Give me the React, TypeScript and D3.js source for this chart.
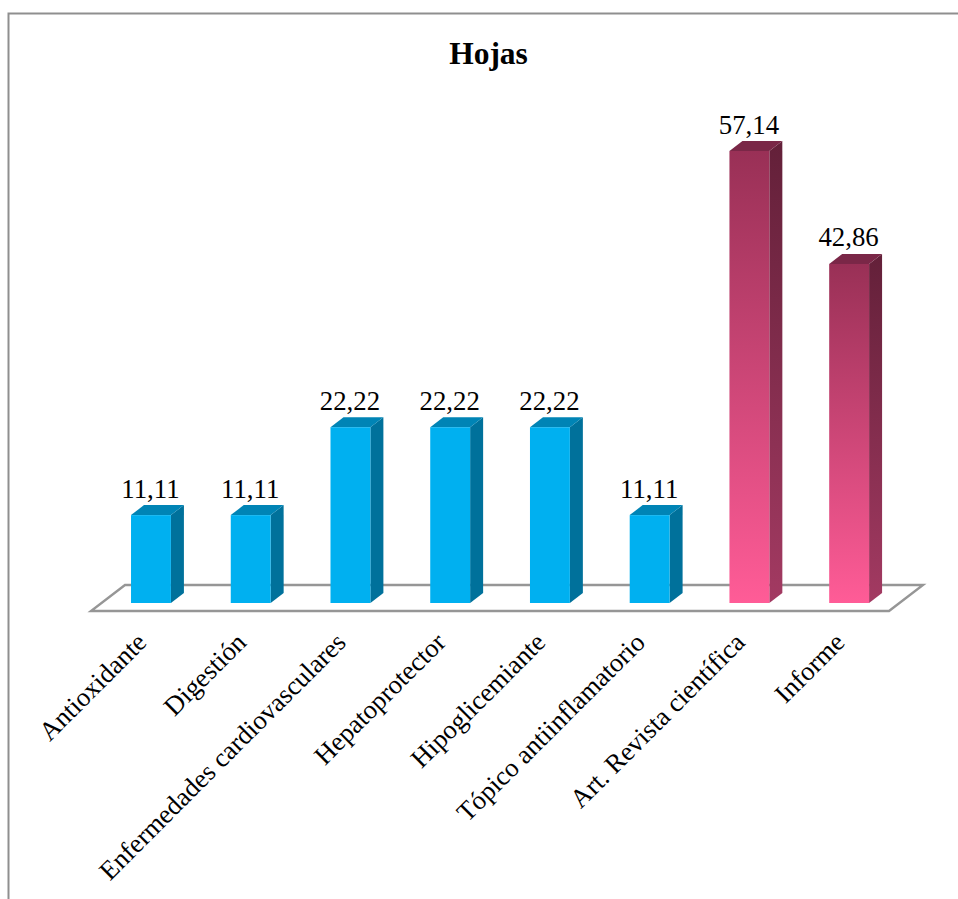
import React from "react";
import * as d3 from "d3";

const categories = [
  "Antioxidante",
  "Digestión",
  "Enfermedades cardiovasculares",
  "Hepatoprotector",
  "Hipoglicemiante",
  "Tópico antiinflamatorio",
  "Art. Revista científica",
  "Informe",
];
const values = [11.11, 11.11, 22.22, 22.22, 22.22, 11.11, 57.14, 42.86];
const valueLabels = ["11,11", "11,11", "22,22", "22,22", "22,22", "11,11", "57,14", "42,86"];
const seriesOf = [0, 0, 0, 0, 0, 0, 1, 1];

const blue = { front: "#00b0f0", side: "#00719b", top: "#0084b5" };
const rose = { frontTop: "#993056", frontBottom: "#ff5c97", sideTop: "#632039", sideBottom: "#a33a62", top: "#7a2747" };

const serif = "'Liberation Serif', serif";

export default function App() {
  const x = d3
    .scaleBand<number>()
    .domain(d3.range(categories.length))
    .range([101.1, 899])
    .paddingInner(0.6)
    .paddingOuter(0.3);
  const y = d3.scaleLinear().domain([0, 57.14]).range([603, 151]);
  const depthX = 13;
  const depthY = 10;
  const floor = [
    [91, 611],
    [889, 611],
    [923, 585],
    [125, 585],
  ];
  return (
    <svg
      width={958}
      height={899}
      style={{ position: "absolute", left: 0, top: 0, background: "#fff" }}
      fontFamily={serif}
    >
      <defs>
        <linearGradient id="roseFront" x1="0" y1="0" x2="0" y2="1">
          <stop offset="0" stopColor={rose.frontTop} />
          <stop offset="1" stopColor={rose.frontBottom} />
        </linearGradient>
        <linearGradient id="roseSide" x1="0" y1="0" x2="0" y2="1">
          <stop offset="0" stopColor={rose.sideTop} />
          <stop offset="1" stopColor={rose.sideBottom} />
        </linearGradient>
      </defs>

      <path d="M8.5,899V13.5H958" fill="none" stroke="#8f8f8f" strokeWidth={2} />

      <text x={488.5} y={64} textAnchor="middle" fontSize={31.5} fontWeight="bold" fill="#000">
        Hojas
      </text>

      <polygon points={floor.map((p) => p.join(",")).join(" ")} fill="#fff" stroke="#969696" strokeWidth={2.4} />

      {values.map((v, i) => {
        const bw = x.bandwidth();
        const left = x(i) as number;
        const right = left + bw;
        const mid = left + bw / 2;
        const top = y(v);
        const base = y(0);
        const isRose = seriesOf[i] === 1;
        return (
          <g key={categories[i]}>
            <polygon
              points={`${right},${top} ${right + depthX},${top - depthY} ${right + depthX},${base - depthY} ${right},${base}`}
              fill={isRose ? "url(#roseSide)" : blue.side}
            />
            <polygon
              points={`${left},${top} ${left + depthX},${top - depthY} ${right + depthX},${top - depthY} ${right},${top}`}
              fill={isRose ? rose.top : blue.top}
            />
            <rect
              x={left}
              y={top}
              width={bw}
              height={base - top}
              fill={isRose ? "url(#roseFront)" : blue.front}
            />
            <text x={mid - 0.5} y={top - 17.5} textAnchor="middle" fontSize={26.8} fill="#000">
              {valueLabels[i]}
            </text>
            <text
              textAnchor="end"
              fontSize={26.6}
              fill="#000"
              transform={`translate(${mid - 3},${644}) rotate(-45)`}
            >
              {categories[i]}
            </text>
          </g>
        );
      })}
    </svg>
  );
}
